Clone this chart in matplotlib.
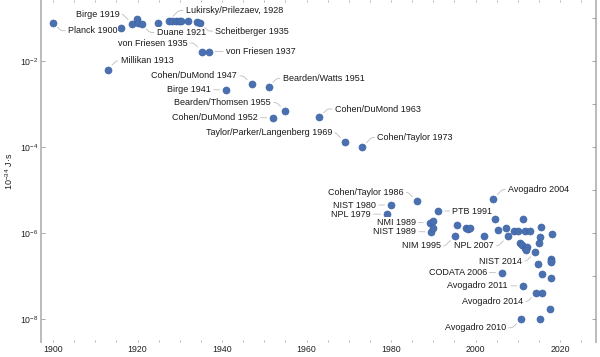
import matplotlib
matplotlib.use("Agg")
import matplotlib.pyplot as plt
from matplotlib.ticker import NullLocator, MultipleLocator, NullFormatter

plt.rcParams['font.family'] = ['Liberation Sans', 'DejaVu Sans']
plt.rcParams['mathtext.fontset'] = 'custom'
plt.rcParams['mathtext.rm'] = 'Liberation Sans'
plt.rcParams['mathtext.it'] = 'Liberation Sans:italic'
plt.rcParams['mathtext.bf'] = 'Liberation Sans:bold'

# ---------------- data (uncertainty of h, in 10^-34 J s) ----------------
years = [1900.0, 1916.0, 1918.8, 1919.8, 1920.2, 1921.0, 1924.8,
         1927.4, 1928.2, 1929.0, 1929.7, 1930.4, 1931.9, 1934.0, 1934.9,
         1935.3, 1936.9, 1912.9,
         1947.0, 1951.0, 1940.9, 1954.9, 1952.0, 1963.0, 1969.1, 1973.1,
         1986.1, 1980.0, 1979.0, 2004.1, 1991.2, 1989.1, 1990.0, 1989.5, 1990.0,
         1995.5, 1995.1, 1997.7, 1998.2, 1998.6, 2002.1, 2004.6, 2005.2,
         2007.1, 2007.6, 2011.2, 2009.0, 2010.0, 2011.6, 2012.9, 2015.5,
         2018.0, 2015.3, 2015.0, 2010.4, 2011.1, 2011.6, 2012.2, 2012.0,
         2014.1, 2014.7, 2017.9, 2017.9, 2017.9, 2015.7, 2017.9, 2006.2,
         2011.2, 2014.3, 2015.8, 2017.6, 2010.7, 2015.3]
values = [0.0776, 0.0589, 0.0724, 0.0933, 0.0759, 0.0708, 0.0776,
          0.0871, 0.0861, 0.0851, 0.0851, 0.0851, 0.0851, 0.0813, 0.0759,
          0.0166, 0.0166, 0.00631,
          2.88e-3, 2.51e-3, 2.14e-3, 6.92e-4, 4.79e-4, 4.90e-4, 1.29e-4, 9.8e-5,
          5.5e-6, 4.47e-6, 2.75e-6, 6.17e-6, 3.24e-6, 1.74e-6, 1.95e-6, 1.07e-6, 1.32e-6,
          1.55e-6, 8.5e-7, 1.32e-6, 1.26e-6, 1.29e-6, 8.5e-7, 2.09e-6, 1.17e-6,
          1.29e-6, 8.3e-7, 2.14e-6, 1.10e-6, 1.10e-6, 1.10e-6, 1.10e-6, 1.35e-6,
          9.5e-7, 7.9e-7, 5.75e-7, 5.75e-7, 5.13e-7, 4.47e-7, 4.79e-7, 3.98e-7,
          3.55e-7, 1.86e-7, 2.51e-7, 2.24e-7, 2.09e-7, 1.10e-7, 8.9e-8, 1.20e-7,
          5.9e-8, 4.0e-8, 4.0e-8, 1.70e-8, 9.8e-9, 9.8e-9]

label_text = ["Planck 1900", "Birge 1919", "Lukirsky/Prilezaev, 1928", "Duane 1921",
              "Scheitberger 1935", "von Friesen 1935", "von Friesen 1937", "Millikan 1913",
              "Cohen/DuMond 1947", "Bearden/Watts 1951", "Birge 1941",
              "Bearden/Thomsen 1955", "Cohen/DuMond 1952", "Cohen/DuMond 1963",
              "Taylor/Parker/Langenberg 1969", "Cohen/Taylor 1973",
              "Cohen/Taylor 1986", "NIST 1980", "NPL 1979", "Avogadro 2004", "PTB 1991",
              "NMI 1989", "NIST 1989", "NIM 1995", "NPL 2007", "NIST 2014",
              "CODATA 2006", "Avogadro 2011", "Avogadro 2014", "Avogadro 2010"]
label_year = [1900.0, 1918.8, 1927.4, 1921.0, 1934.9, 1935.3, 1936.9, 1912.9,
              1947.0, 1951.0, 1940.9, 1954.9, 1952.0, 1963.0, 1969.1, 1973.1,
              1986.1, 1980.0, 1979.0, 2004.1, 1991.2, 1989.1, 1989.5, 1995.1,
              2007.6, 2014.1, 2006.2, 2011.2, 2014.3, 2010.7]
label_value = [0.0776, 0.0724, 0.0871, 0.0708, 0.0759, 0.0166, 0.0166, 0.00631,
               2.88e-3, 2.51e-3, 2.14e-3, 6.92e-4, 4.79e-4, 4.90e-4, 1.29e-4, 9.8e-5,
               5.5e-6, 4.47e-6, 2.75e-6, 6.17e-6, 3.24e-6, 1.74e-6, 1.07e-6, 8.5e-7,
               8.3e-7, 3.55e-7, 1.20e-7, 5.9e-8, 4.0e-8, 9.8e-9]

x_ticks = [1900, 1920, 1940, 1960, 1980, 2000, 2020]
x_tick_labels = ["1900", "1920", "1940", "1960", "1980", "2000", "2020"]
y_ticks = [1e-2, 1e-4, 1e-6, 1e-8]
y_tick_labels = [r"$10^{-2}$", r"$10^{-4}$", r"$10^{-6}$", r"$10^{-8}$"]
y_label = r"$10^{-34}$ J·s"

# ---------------- layout (label offsets in pixels: dx, dy(up), ha) ----------------
label_layout = [(15, -8, 'left'), (-13, 10, 'right'), (17, 10, 'left'), (15, -8, 'left'),
                (15, -8, 'left'), (-15, 8.5, 'right'), (17, 0, 'left'), (13, 8.7, 'left'),
                (-14.5, 8.3, 'right'), (14, 8.3, 'left'), (-15, 0, 'right'),
                (-14, 8.3, 'right'), (-15, 0, 'right'), (15.5, 8.3, 'left'),
                (-13, 10, 'right'), (15.5, 10, 'left'),
                (-13, 8.7, 'right'), (-15, 0, 'right'), (-16, 0, 'right'), (15, 9.5, 'left'),
                (14, 0, 'left'), (-14, 0, 'right'), (-15, 0, 'right'), (-14, -9.7, 'right'),
                (-14, -9.3, 'right'), (-13, -8.7, 'right'), (-15, 0, 'right'),
                (-15, 0, 'right'), (-13, -8.4, 'right'), (-15, -8.4, 'right')]

W, H = 600, 357
fig = plt.figure(figsize=(6.0, 3.57), dpi=100)
ax = fig.add_axes([41 / W, 15 / H, 555 / W, 342 / H])

ax.set_yscale('log')
ax.set_xlim(1897.16, 2028.5)
ax.set_ylim(10 ** -8.535, 10 ** -0.582)

ax.scatter(years, values, s=26, c='#4a70b0', edgecolors='#3b62a4',
           linewidths=0.4, zorder=3)

grey_line = '#bdbdbd'
for txt, lx, ly, (dx, dy, ha) in zip(label_text, label_year, label_value, label_layout):
    if abs(dy) < 1:
        cs = 'arc3'
    else:
        angB = 45 if dx * dy > 0 else 135
        cs = f'angle,angleA=0,angleB={angB},rad=2'
    ax.annotate(txt, xy=(lx, ly), xytext=(dx, dy), textcoords='offset pixels',
                ha=ha, va='center', fontsize=6.5, color='#1a1a1a', zorder=5,
                bbox=dict(boxstyle='square,pad=0.08', fc='white', ec='none'),
                arrowprops=dict(arrowstyle='-', color=grey_line, lw=0.6,
                                shrinkA=1.5, shrinkB=4.5, connectionstyle=cs))

for s in ['top', 'bottom']:
    ax.spines[s].set_visible(False)
for s in ['left', 'right']:
    ax.spines[s].set_color('#b5b5b5')
    ax.spines[s].set_linewidth(1.3)

ax.set_xticks(x_ticks, labels=x_tick_labels)
ax.xaxis.set_minor_locator(MultipleLocator(5))
ax.tick_params(axis='x', which='both', direction='in', top=True, bottom=True,
               length=1.5, width=0.6, color='#aaaaaa', labelsize=6.3, pad=2.5,
               labelcolor='#222222')

ax.set_yticks(y_ticks, labels=y_tick_labels)
ax.yaxis.set_minor_locator(NullLocator())
ax.tick_params(axis='y', which='both', direction='in', left=True, right=False,
               length=3, width=0.6, color='#999999', labelsize=6.3, pad=2,
               labelcolor='#222222')

ax2 = ax.twinx()
ax2.set_yscale('log')
ax2.set_ylim(ax.get_ylim())
ax2.set_yticks([10.0 ** -k for k in range(1, 9)])
ax2.yaxis.set_major_formatter(NullFormatter())
ax2.yaxis.set_minor_locator(NullLocator())
ax2.tick_params(axis='y', direction='in', length=3, width=0.6, color='#999999')
for s in ax2.spines.values():
    s.set_visible(False)

ax.set_ylabel(y_label, fontsize=6.5, color='#222222', labelpad=3)

fig.savefig('out.png', dpi=100)
